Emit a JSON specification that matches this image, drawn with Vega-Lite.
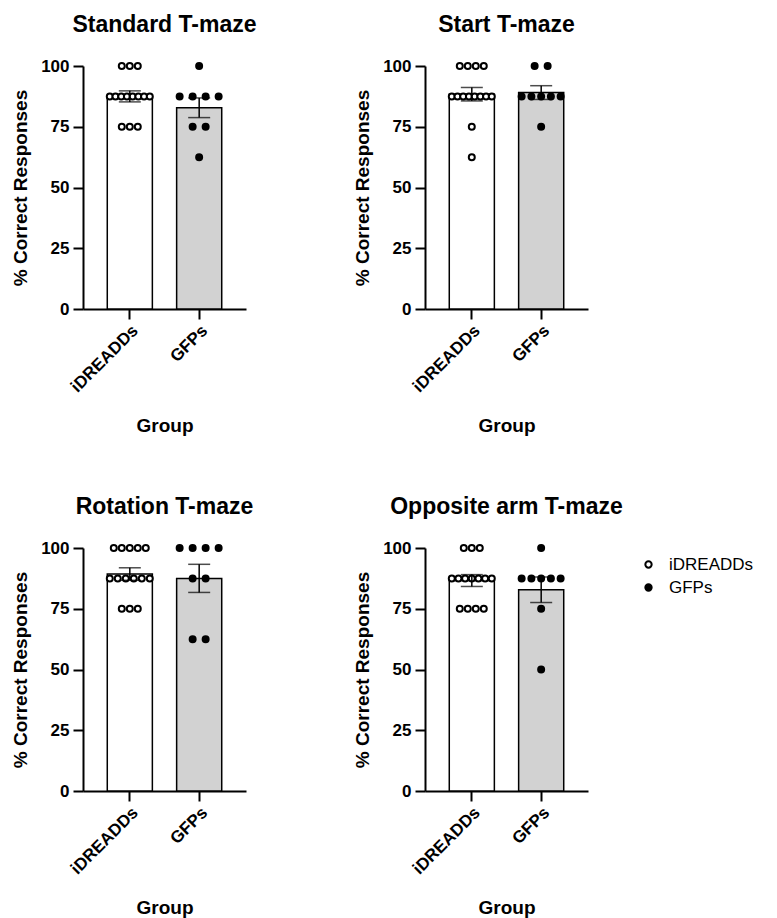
{
  "$schema": "https://vega.github.io/schema/vega-lite/v6.json",
  "padding": {"left": 11, "top": 14, "right": 5, "bottom": 5},
  "background": "white",
  "datasets": {
    "maze": [
      {"test": "Standard", "group": "iDREADDs", "value": 100},
      {"test": "Standard", "group": "iDREADDs", "value": 100},
      {"test": "Standard", "group": "iDREADDs", "value": 100},
      {"test": "Standard", "group": "iDREADDs", "value": 87.5},
      {"test": "Standard", "group": "iDREADDs", "value": 87.5},
      {"test": "Standard", "group": "iDREADDs", "value": 87.5},
      {"test": "Standard", "group": "iDREADDs", "value": 87.5},
      {"test": "Standard", "group": "iDREADDs", "value": 87.5},
      {"test": "Standard", "group": "iDREADDs", "value": 87.5},
      {"test": "Standard", "group": "iDREADDs", "value": 87.5},
      {"test": "Standard", "group": "iDREADDs", "value": 87.5},
      {"test": "Standard", "group": "iDREADDs", "value": 75},
      {"test": "Standard", "group": "iDREADDs", "value": 75},
      {"test": "Standard", "group": "iDREADDs", "value": 75},
      {"test": "Standard", "group": "GFPs", "value": 100},
      {"test": "Standard", "group": "GFPs", "value": 87.5},
      {"test": "Standard", "group": "GFPs", "value": 87.5},
      {"test": "Standard", "group": "GFPs", "value": 87.5},
      {"test": "Standard", "group": "GFPs", "value": 87.5},
      {"test": "Standard", "group": "GFPs", "value": 75},
      {"test": "Standard", "group": "GFPs", "value": 75},
      {"test": "Standard", "group": "GFPs", "value": 62.5},
      {"test": "Start", "group": "iDREADDs", "value": 100},
      {"test": "Start", "group": "iDREADDs", "value": 100},
      {"test": "Start", "group": "iDREADDs", "value": 100},
      {"test": "Start", "group": "iDREADDs", "value": 100},
      {"test": "Start", "group": "iDREADDs", "value": 87.5},
      {"test": "Start", "group": "iDREADDs", "value": 87.5},
      {"test": "Start", "group": "iDREADDs", "value": 87.5},
      {"test": "Start", "group": "iDREADDs", "value": 87.5},
      {"test": "Start", "group": "iDREADDs", "value": 87.5},
      {"test": "Start", "group": "iDREADDs", "value": 87.5},
      {"test": "Start", "group": "iDREADDs", "value": 87.5},
      {"test": "Start", "group": "iDREADDs", "value": 87.5},
      {"test": "Start", "group": "iDREADDs", "value": 75},
      {"test": "Start", "group": "iDREADDs", "value": 62.5},
      {"test": "Start", "group": "GFPs", "value": 100},
      {"test": "Start", "group": "GFPs", "value": 100},
      {"test": "Start", "group": "GFPs", "value": 87.5},
      {"test": "Start", "group": "GFPs", "value": 87.5},
      {"test": "Start", "group": "GFPs", "value": 87.5},
      {"test": "Start", "group": "GFPs", "value": 87.5},
      {"test": "Start", "group": "GFPs", "value": 87.5},
      {"test": "Start", "group": "GFPs", "value": 75},
      {"test": "Rotation", "group": "iDREADDs", "value": 100},
      {"test": "Rotation", "group": "iDREADDs", "value": 100},
      {"test": "Rotation", "group": "iDREADDs", "value": 100},
      {"test": "Rotation", "group": "iDREADDs", "value": 100},
      {"test": "Rotation", "group": "iDREADDs", "value": 100},
      {"test": "Rotation", "group": "iDREADDs", "value": 87.5},
      {"test": "Rotation", "group": "iDREADDs", "value": 87.5},
      {"test": "Rotation", "group": "iDREADDs", "value": 87.5},
      {"test": "Rotation", "group": "iDREADDs", "value": 87.5},
      {"test": "Rotation", "group": "iDREADDs", "value": 87.5},
      {"test": "Rotation", "group": "iDREADDs", "value": 87.5},
      {"test": "Rotation", "group": "iDREADDs", "value": 75},
      {"test": "Rotation", "group": "iDREADDs", "value": 75},
      {"test": "Rotation", "group": "iDREADDs", "value": 75},
      {"test": "Rotation", "group": "GFPs", "value": 100},
      {"test": "Rotation", "group": "GFPs", "value": 100},
      {"test": "Rotation", "group": "GFPs", "value": 100},
      {"test": "Rotation", "group": "GFPs", "value": 100},
      {"test": "Rotation", "group": "GFPs", "value": 87.5},
      {"test": "Rotation", "group": "GFPs", "value": 87.5},
      {"test": "Rotation", "group": "GFPs", "value": 62.5},
      {"test": "Rotation", "group": "GFPs", "value": 62.5},
      {"test": "Opposite", "group": "iDREADDs", "value": 100},
      {"test": "Opposite", "group": "iDREADDs", "value": 100},
      {"test": "Opposite", "group": "iDREADDs", "value": 100},
      {"test": "Opposite", "group": "iDREADDs", "value": 87.5},
      {"test": "Opposite", "group": "iDREADDs", "value": 87.5},
      {"test": "Opposite", "group": "iDREADDs", "value": 87.5},
      {"test": "Opposite", "group": "iDREADDs", "value": 87.5},
      {"test": "Opposite", "group": "iDREADDs", "value": 87.5},
      {"test": "Opposite", "group": "iDREADDs", "value": 87.5},
      {"test": "Opposite", "group": "iDREADDs", "value": 87.5},
      {"test": "Opposite", "group": "iDREADDs", "value": 75},
      {"test": "Opposite", "group": "iDREADDs", "value": 75},
      {"test": "Opposite", "group": "iDREADDs", "value": 75},
      {"test": "Opposite", "group": "iDREADDs", "value": 75},
      {"test": "Opposite", "group": "GFPs", "value": 100},
      {"test": "Opposite", "group": "GFPs", "value": 87.5},
      {"test": "Opposite", "group": "GFPs", "value": 87.5},
      {"test": "Opposite", "group": "GFPs", "value": 87.5},
      {"test": "Opposite", "group": "GFPs", "value": 87.5},
      {"test": "Opposite", "group": "GFPs", "value": 87.5},
      {"test": "Opposite", "group": "GFPs", "value": 75},
      {"test": "Opposite", "group": "GFPs", "value": 50}
    ]
  },
  "data": {"name": "maze"},
  "transform": [
    {"window": [{"op": "row_number", "as": "idx"}], "groupby": ["test", "group", "value"]},
    {"joinaggregate": [{"op": "count", "as": "n"}], "groupby": ["test", "group", "value"]},
    {"calculate": "datum.group === 'GFPs' ? min(13, 39 / max(datum.n - 1, 1)) : min(8, 40 / max(datum.n - 1, 1))", "as": "sp"},
    {"calculate": "(datum.idx - 1 - (datum.n - 1) / 2) * datum.sp", "as": "off"}
  ],
  "columns": 2,
  "spacing": {"column": 96, "row": 60},
  "resolve": {"scale": {"fill": "independent"}, "legend": {"fill": "independent"}},
  "concat": [
    {
      "title": "Standard T-maze",
      "width": 163, "height": 243,
      "transform": [{"filter": "datum.test === 'Standard'"}],
      "encoding": {
        "x": {"field": "group", "type": "nominal", "sort": ["iDREADDs", "GFPs"], "title": "Group", "scale": {"paddingInner": 0.35, "paddingOuter": 0.35}}
      },
      "resolve": {"scale": {"xOffset": "independent"}},
      "layer": [
        {"mark": {"type": "bar", "stroke": "black", "strokeWidth": 1.5, "width": {"band": 1}},
         "encoding": {"y": {"aggregate": "mean", "field": "value", "type": "quantitative", "title": "% Correct Responses", "scale": {"domain": [0, 100]}, "axis": {"values": [0, 25, 50, 75, 100]}},
           "fill": {"condition": {"test": "datum.group === 'GFPs'", "value": "#d2d2d2"}, "value": "white"}}},
        {"mark": {"type": "point", "filled": true, "stroke": "black", "strokeWidth": 2, "size": 36, "opacity": 1, "strokeOpacity": 1},
         "encoding": {"y": {"field": "value", "type": "quantitative", "title": "% Correct Responses"},
           "xOffset": {"field": "off", "type": "quantitative", "scale": {"domain": [-22.5, 22.5], "range": [0, 45]}},
           "fill": {"field": "group", "type": "nominal", "scale": {"domain": ["iDREADDs", "GFPs"], "range": ["white", "black"]}, "legend": null}}},
        {"mark": {"type": "errorbar", "extent": "stderr", "color": "black", "thickness": 1.5, "ticks": {"size": 22, "thickness": 1.5}},
         "encoding": {"y": {"field": "value", "type": "quantitative", "title": "% Correct Responses"}}}
      ]
    },
    {
      "title": "Start T-maze",
      "width": 163, "height": 243,
      "transform": [{"filter": "datum.test === 'Start'"}],
      "encoding": {
        "x": {"field": "group", "type": "nominal", "sort": ["iDREADDs", "GFPs"], "title": "Group", "scale": {"paddingInner": 0.35, "paddingOuter": 0.35}}
      },
      "resolve": {"scale": {"xOffset": "independent"}},
      "layer": [
        {"mark": {"type": "bar", "stroke": "black", "strokeWidth": 1.5, "width": {"band": 1}},
         "encoding": {"y": {"aggregate": "mean", "field": "value", "type": "quantitative", "title": "% Correct Responses", "scale": {"domain": [0, 100]}, "axis": {"values": [0, 25, 50, 75, 100]}},
           "fill": {"condition": {"test": "datum.group === 'GFPs'", "value": "#d2d2d2"}, "value": "white"}}},
        {"mark": {"type": "point", "filled": true, "stroke": "black", "strokeWidth": 2, "size": 36, "opacity": 1, "strokeOpacity": 1},
         "encoding": {"y": {"field": "value", "type": "quantitative", "title": "% Correct Responses"},
           "xOffset": {"field": "off", "type": "quantitative", "scale": {"domain": [-22.5, 22.5], "range": [0, 45]}},
           "fill": {"field": "group", "type": "nominal", "scale": {"domain": ["iDREADDs", "GFPs"], "range": ["white", "black"]}, "legend": null}}},
        {"mark": {"type": "errorbar", "extent": "stderr", "color": "black", "thickness": 1.5, "ticks": {"size": 22, "thickness": 1.5}},
         "encoding": {"y": {"field": "value", "type": "quantitative", "title": "% Correct Responses"}}}
      ]
    },
    {
      "title": "Rotation T-maze",
      "width": 163, "height": 243,
      "transform": [{"filter": "datum.test === 'Rotation'"}],
      "encoding": {
        "x": {"field": "group", "type": "nominal", "sort": ["iDREADDs", "GFPs"], "title": "Group", "scale": {"paddingInner": 0.35, "paddingOuter": 0.35}}
      },
      "resolve": {"scale": {"xOffset": "independent"}},
      "layer": [
        {"mark": {"type": "bar", "stroke": "black", "strokeWidth": 1.5, "width": {"band": 1}},
         "encoding": {"y": {"aggregate": "mean", "field": "value", "type": "quantitative", "title": "% Correct Responses", "scale": {"domain": [0, 100]}, "axis": {"values": [0, 25, 50, 75, 100]}},
           "fill": {"condition": {"test": "datum.group === 'GFPs'", "value": "#d2d2d2"}, "value": "white"}}},
        {"mark": {"type": "point", "filled": true, "stroke": "black", "strokeWidth": 2, "size": 36, "opacity": 1, "strokeOpacity": 1},
         "encoding": {"y": {"field": "value", "type": "quantitative", "title": "% Correct Responses"},
           "xOffset": {"field": "off", "type": "quantitative", "scale": {"domain": [-22.5, 22.5], "range": [0, 45]}},
           "fill": {"field": "group", "type": "nominal", "scale": {"domain": ["iDREADDs", "GFPs"], "range": ["white", "black"]}, "legend": null}}},
        {"mark": {"type": "errorbar", "extent": "stderr", "color": "black", "thickness": 1.5, "ticks": {"size": 22, "thickness": 1.5}},
         "encoding": {"y": {"field": "value", "type": "quantitative", "title": "% Correct Responses"}}}
      ]
    },
    {
      "title": "Opposite arm T-maze",
      "width": 163, "height": 243,
      "transform": [{"filter": "datum.test === 'Opposite'"}],
      "encoding": {
        "x": {"field": "group", "type": "nominal", "sort": ["iDREADDs", "GFPs"], "title": "Group", "scale": {"paddingInner": 0.35, "paddingOuter": 0.35}}
      },
      "resolve": {"scale": {"xOffset": "independent"}},
      "layer": [
        {"mark": {"type": "bar", "stroke": "black", "strokeWidth": 1.5, "width": {"band": 1}},
         "encoding": {"y": {"aggregate": "mean", "field": "value", "type": "quantitative", "title": "% Correct Responses", "scale": {"domain": [0, 100]}, "axis": {"values": [0, 25, 50, 75, 100]}},
           "fill": {"condition": {"test": "datum.group === 'GFPs'", "value": "#d2d2d2"}, "value": "white"}}},
        {"mark": {"type": "point", "filled": true, "stroke": "black", "strokeWidth": 2, "size": 36, "opacity": 1, "strokeOpacity": 1},
         "encoding": {"y": {"field": "value", "type": "quantitative", "title": "% Correct Responses"},
           "xOffset": {"field": "off", "type": "quantitative", "scale": {"domain": [-22.5, 22.5], "range": [0, 45]}},
           "fill": {"field": "group", "type": "nominal", "scale": {"domain": ["iDREADDs", "GFPs"], "range": ["white", "black"]},
             "legend": {"title": null, "orient": "none", "legendX": 215, "legendY": 8, "padding": 0, "symbolType": "circle", "symbolSize": 40, "symbolStrokeColor": "black", "symbolStrokeWidth": 2, "labelFont": "Liberation Sans", "labelFontSize": 17, "labelColor": "black", "labelOffset": 12, "rowPadding": 5}}}},
        {"mark": {"type": "errorbar", "extent": "stderr", "color": "black", "thickness": 1.5, "ticks": {"size": 22, "thickness": 1.5}},
         "encoding": {"y": {"field": "value", "type": "quantitative", "title": "% Correct Responses"}}}
      ]
    }
  ],
  "config": {
    "view": {"stroke": null},
    "font": "Liberation Sans",
    "title": {"font": "Liberation Sans", "fontSize": 23, "fontWeight": "bold", "color": "black", "anchor": "middle", "offset": 20},
    "axis": {"grid": false, "domainColor": "black", "domainWidth": 2, "tickColor": "black", "tickWidth": 2, "tickSize": 10,
      "labelFont": "Liberation Sans", "labelFontWeight": "bold", "labelFontSize": 17, "labelColor": "black",
      "titleFont": "Liberation Sans", "titleFontWeight": "bold", "titleFontSize": 19, "titleColor": "black"},
    "axisX": {"labelAngle": -45, "labelPadding": 3, "titlePadding": 22},
    "axisY": {"labelPadding": 4, "titlePadding": 10}
  }
}
